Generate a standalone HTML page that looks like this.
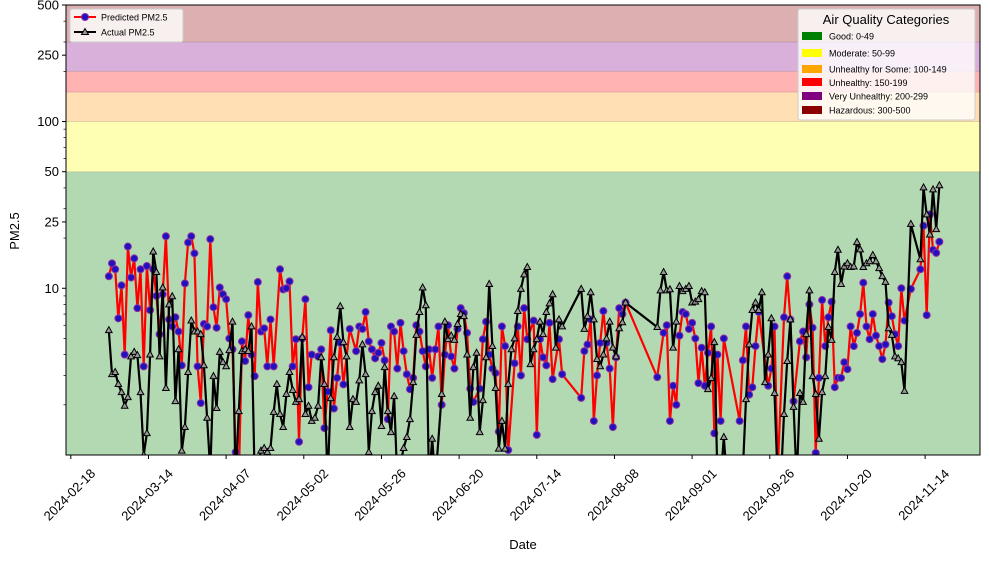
<!DOCTYPE html>
<html><head><meta charset="utf-8">
<style>
html,body{margin:0;padding:0;background:#fff;}
svg{display:block;font-family:"Liberation Sans","DejaVu Sans",sans-serif;}
</style></head>
<body>
<svg id="chart" width="989" height="562" viewBox="0 0 989 562" xmlns="http://www.w3.org/2000/svg">
<defs><clipPath id="plotclip"><rect x="66" y="5" width="914" height="450"/></clipPath></defs>
<g id="bands" clip-path="url(#plotclip)"></g>
<g id="series" clip-path="url(#plotclip)"></g>
<rect x="66" y="5" width="914" height="450" fill="none" stroke="#000" stroke-width="1"/>
<g id="axes"></g>
<text x="19" y="231" font-size="13" text-anchor="middle" transform="rotate(-90 19 231)">PM2.5</text>
<text x="523" y="549" font-size="13" text-anchor="middle">Date</text>
<g>
<rect x="70" y="9" width="113" height="33" fill="#fff" fill-opacity="0.8" stroke="#ccc" rx="2"/>
<line x1="74" y1="17" x2="96" y2="17" stroke="#f00" stroke-width="2"/>
<circle cx="85" cy="17" r="3.5" fill="#2010c0" stroke="#9030a0" stroke-width="1"/>
<text x="101" y="20.5" font-size="9">Predicted PM2.5</text>
<line x1="74" y1="32" x2="96" y2="32" stroke="#000" stroke-width="2"/>
<path d="M85,28.5 L88.5,34.5 L81.5,34.5 Z" fill="#999" stroke="#000" stroke-width="1"/>
<text x="101" y="35.5" font-size="9">Actual PM2.5</text>
</g>
<g>
<rect x="798" y="9" width="177" height="111" fill="#fff" fill-opacity="0.8" stroke="#ccc" rx="2"/>
<text x="886" y="24" font-size="13" text-anchor="middle">Air Quality Categories</text>
<rect x="802" y="32" width="20" height="8" fill="#008000"/><text x="829" y="39.5" font-size="9">Good: 0-49</text>
<rect x="802" y="49" width="20" height="8" fill="#ffff00"/><text x="829" y="56.5" font-size="9">Moderate: 50-99</text>
<rect x="802" y="65" width="20" height="8" fill="#ffa500"/><text x="829" y="72.5" font-size="9">Unhealthy for Some: 100-149</text>
<rect x="802" y="78" width="20" height="8" fill="#ff0000"/><text x="829" y="86" font-size="9">Unhealthy: 150-199</text>
<rect x="802" y="92" width="20" height="8" fill="#800080"/><text x="829" y="99.5" font-size="9">Very Unhealthy: 200-299</text>
<rect x="802" y="106" width="20" height="8" fill="#8b0000"/><text x="829" y="113.5" font-size="9">Hazardous: 300-500</text>
</g>
</svg>
<script>
const bandLow = [1, 50, 100, 150, 200, 300];
const bandHigh = [50, 100, 150, 200, 300, 500];
const bandColors = ["#b3d9b3","#ffffb3","#ffdfb3","#ffb3b3","#d9b0d9","#dcb0b0"];
const yTicks = [10, 25, 50, 100, 250, 500];
const yMinor = [2,3,4,5,6,7,8,9,20,30,40,60,70,80,90,200,300,400];
const xTickDays = [0,24.5,49,73.5,98,122.5,147,171.5,196,220.5,245,269.5];
const xTickLabels = ["2024-02-18","2024-03-14","2024-04-07","2024-05-02","2024-05-26","2024-06-20","2024-07-14","2024-08-08","2024-09-01","2024-09-26","2024-10-20","2024-11-14"];

const predDays = [12,13,14,15,16,17,18,19,20,21,22,23,24,25,26,27,28,29,30,31,32,33,34,35,36,37,38,39,40,41,42,43,44,45,46,47,48,49,50,51,52,53,54,55,56,57,58,59,60,61,62,63,64,66,67,68,69,70,71,72,73,74,75,76,78,79,80,81,82,83,84,85,86,88,90,91,92,93,94,95,96,97,98,99,100,101,102,103,104,105,106,107,108,109,110,111,112,113,114,115,116,117,118,119,120,121,122,123,124,125,126,127,129,130,131,132,133,134,135,136,137,138,140,141,142,143,144,146,147,148,149,150,151,152,154,155,161,162,163,164,165,166,167,168,169,170,171,172,173,174,175,185,187,188,189,190,191,192,193,194,195,196,197,198,199,200,201,202,203,204,205,206,211,212,213,214,215,216,217,220,221,222,223,225,226,227,228,230,231,232,233,234,235,236,237,238,239,240,241,242,243,244,245,246,247,248,249,250,251,252,253,254,255,256,257,258,259,260,261,262,263,265,268,269,270,271,272,273,274];
const predVals = [11.8,14.1,13,6.6,10.4,4.0,17.8,11.6,15.1,7.6,13,3.4,13.6,7.4,13,9,5.3,9.2,20.5,6.5,5.9,6.7,5.5,3.45,10.7,18.8,20.5,16.2,3.4,2.05,6.1,5.9,19.7,7.7,5.8,10.1,9.2,8.6,5.0,4.3,1.04,0.7,4.8,3.66,6.9,4.0,2.97,10.9,5.5,5.75,3.4,6.5,3.4,13,9.85,10,11,3.4,4.95,1.2,5.0,8.6,2.55,4.0,3.9,4.3,1.45,2.4,5.6,1.9,2.9,4.7,2.65,5.7,4.2,5.9,5.7,7.2,4.8,4.3,3.8,4.1,4.7,3.7,1.64,5.9,5.5,3.3,6.2,4.2,3.05,2.48,2.9,6.0,5.5,4.2,3.4,4.3,2.9,4.3,5.9,2.0,4.0,6.0,3.9,3.3,5.7,7.6,7.1,5.4,2.5,2.08,2.5,4.95,6.3,4.0,3.3,3.1,1.38,5.9,4.5,1.07,3.55,5.9,3.0,7.6,4.95,6.4,1.32,4.95,3.85,3.45,6.2,2.85,4.95,3.05,2.2,4.2,4.6,6.5,1.6,3.0,4.7,7.3,4.7,3.3,1.47,3.85,7.6,7.0,8.2,2.93,5.4,6.0,1.6,2.6,2.0,5.2,7.2,7.0,5.7,6.2,5.0,2.7,4.4,2.6,4.1,5.9,1.35,4.0,1.6,5.0,1.6,3.7,5.9,2.3,2.55,4.5,7.2,2.6,3.3,5.9,0.8,6.7,11.8,6.5,2.1,4.8,5.5,3.85,8.0,5.8,1.03,2.9,8.5,4.5,6.7,8.3,2.55,2.9,2.9,3.6,3.27,5.9,4.5,5.4,7.0,10.8,5.9,4.95,7.0,5.2,4.5,3.76,4.6,8.2,6.8,5.3,4.5,10.0,6.4,9.9,13.0,23.7,6.9,27.7,17.0,16.3,19.0];

const actDays = [12,13,14,15,16,17,18,19,20,21,22,23,24,25,26,27,28,29,30,31,32,33,34,35,36,37,38,39,40,41,42,43,44,45,46,47,48,49,50,51,52,53,54,55,56,57,58,60,61,62,63,64,65,66,67,68,69,70,71,72,73,74,75,76,77,78,79,80,81,82,83,84,85,86,87,88,89,90,91,92,93,94,95,96,97,98,99,100,101,102,103,105,106,107,108,109,110,111,112,113,114,115,117,118,119,120,121,122,123,124,125,126,127,128,129,130,131,132,133,134,135,136,137,138,139,140,141,142,143,144,145,146,147,148,149,150,151,152,153,154,155,161,162,163,164,165,166,167,168,169,170,171,172,173,174,175,185,186,187,188,189,190,191,192,193,194,195,196,197,198,199,200,201,202,203,204,205,206,207,208,210,212,213,214,215,216,217,218,219,220,221,222,223,224,225,226,227,228,229,230,231,232,233,234,235,236,237,238,239,240,241,242,243,244,245,246,247,248,249,250,251,252,253,254,255,256,257,258,259,260,261,262,263,265,268,269,270,271,272,273,274];
const actVals = [5.6,3.05,3.14,2.66,2.38,1.97,2.22,3.9,4.15,3.97,2.38,1.0,1.35,4.0,16.6,12.5,3.9,10.1,2.52,8.0,8.95,2.1,4.3,1.06,1.47,3.14,6.4,5.5,5.5,5.3,3.45,1.67,0.8,2.97,1.91,4.15,3.6,3.4,4.25,6.3,0.7,1.83,4.2,4.3,4.2,5.9,0.7,1.06,1.1,1.04,1.1,1.81,2.66,1.76,1.47,2.32,3.14,2.45,2.08,2.16,5.1,1.76,1.97,1.6,1.67,1.97,3.85,2.66,0.7,2.19,3.85,5.1,7.8,4.75,3.9,1.47,2.16,2.08,2.8,4.6,3.05,1.04,1.83,2.38,2.6,1.49,3.36,1.83,1.37,2.25,0.7,1.1,1.28,1.64,2.73,5.25,7.2,10.1,7.9,0.7,1.25,0.7,2.32,6.3,4.95,5.2,4.9,6.1,7.0,6.8,4.0,1.67,3.36,4.1,1.37,2.13,3.85,10.6,4.5,2.52,1.09,1.6,1.09,2.66,4.3,5.0,7.3,9.9,12.1,13.4,3.5,4.3,4.95,6.3,5.3,7.2,8.1,9.2,4.4,6.5,5.9,9.9,5.7,6.8,9.45,6.5,3.76,3.4,4.0,5.0,6.3,4.4,3.9,5.75,6.25,8.2,5.85,9.7,12.5,9.7,9.85,4.4,6.3,10.3,9.6,9.9,10.3,8.2,8.3,8.6,9.6,9.45,2.48,2.89,4.75,0.7,0.7,1.28,0.7,0.7,0.7,0.8,2.16,4.6,7.4,8.2,7.4,9.45,2.73,4.0,6.6,2.35,0.7,0.7,1.76,3.66,6.5,1.94,0.7,2.35,2.08,5.3,9.7,2.97,2.32,1.25,2.38,2.97,5.85,4.9,12.5,17,10.6,13.5,14.1,13.4,13.5,18.9,17.1,13.4,14.1,14.5,15.8,14.5,13.2,11.8,10.9,5.75,5.25,3.9,3.8,3.6,2.42,24.3,14.9,40.2,27.7,21,39.1,22.6,41.4];

const NS = "http://www.w3.org/2000/svg";
const L = 66, R = 980, T = 5, B = 455, YMIN = 1, YMAX = 500;
function xs(d){ return 70.8 + 3.17 * d; }
function ys(v){ return B - (Math.log10(v) - Math.log10(YMIN)) / (Math.log10(YMAX) - Math.log10(YMIN)) * (B - T); }
function mk(tag, attrs, parent){ const e = document.createElementNS(NS, tag); for (const k in attrs) e.setAttribute(k, attrs[k]); parent.appendChild(e); return e; }

const bands = document.getElementById('bands');
for (let i = 0; i < bandLow.length; i++) {
  const y1 = ys(bandHigh[i]), y0 = ys(bandLow[i]);
  const r = mk('rect', {x: L, y: y1, width: R - L, height: y0 - y1, fill: bandColors[i]}, bands);
  
  
  if (i > 0) {
    const ln = mk('line', {x1: L, x2: R, y1: y0, y2: y0, stroke: "#000", 'stroke-opacity': 0.12, 'stroke-width': 1}, bands);
    
    
  }
}

const axes = document.getElementById('axes');
yTicks.forEach(v => {
  const y = ys(v);
  const t = mk('line', {x1: L - 4, x2: L, y1: y, y2: y, stroke: "#000"}, axes);
  
  
  const lb = mk('text', {x: L - 7, y: y + 4.5, 'font-size': 13, 'text-anchor': 'end'}, axes);
  lb.textContent = v;
  
  
});
yMinor.forEach(v => {
  const y = ys(v);
  const t = mk('line', {x1: L - 2.5, x2: L, y1: y, y2: y, stroke: "#000", 'stroke-width': 0.7}, axes);
  
  
});
xTickDays.forEach((d, i) => {
  const x = xs(d);
  const t = mk('line', {x1: x, x2: x, y1: B, y2: B + 4, stroke: "#000"}, axes);
  
  
  const cx = x - 1, cy = B + 40;
  const lb = mk('text', {x: cx, y: cy + 4, 'font-size': 13, 'text-anchor': 'middle', transform: `rotate(-45 ${cx} ${cy})`}, axes);
  lb.textContent = xTickLabels[i];
  
  
});

const series = document.getElementById('series');
function drawSeries(days, vals, color, name, marker) {
  const g = mk('g', {}, series);
  
  
  const pts = days.map((d, i) => xs(d).toFixed(1) + ',' + ys(vals[i]).toFixed(1)).join(' ');
  const pl = mk('polyline', {points: pts, fill: 'none', stroke: color, 'stroke-width': 2.2, 'stroke-linejoin': 'round'}, g);
  
  
  days.forEach((d, i) => {
    const x = xs(d), y = ys(vals[i]);
    let m;
    if (marker === 'circle') {
      m = mk('circle', {cx: x, cy: y, r: 3.5, fill: '#2010c0', stroke: '#9030a0', 'stroke-width': 1}, g);
    } else {
      m = mk('path', {d: `M${x},${y - 3.6} L${x + 3.3},${y + 2.4} L${x - 3.3},${y + 2.4} Z`, fill: '#999', stroke: '#000', 'stroke-width': 1}, g);
    }
    
    
  });
}
drawSeries(predDays, predVals, '#ff0000', 'predicted', 'circle');
drawSeries(actDays, actVals, '#000000', 'actual', 'triangle');
</script>
</body></html>
